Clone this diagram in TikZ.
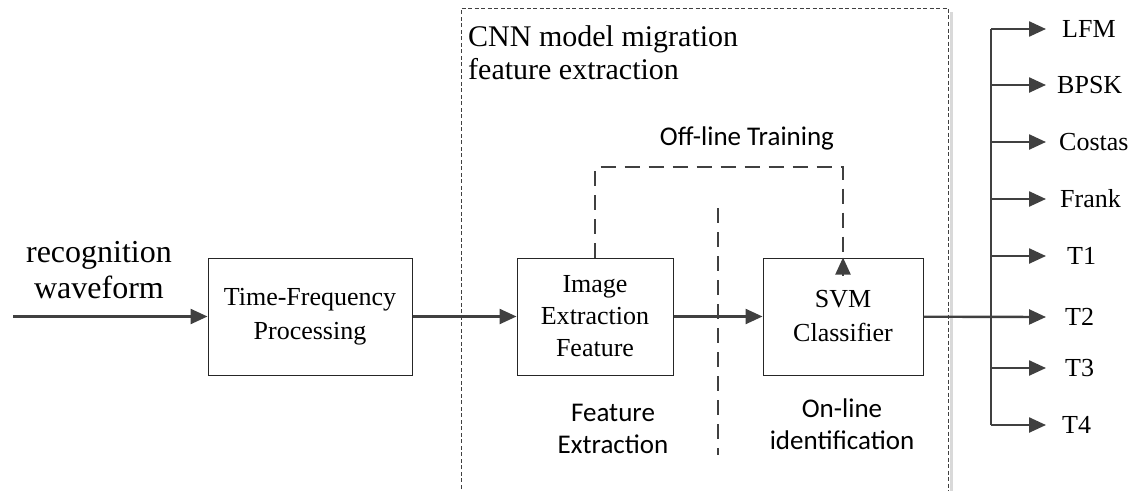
\documentclass[tikz,border=0pt]{standalone}
\usepackage{fontspec}
\setmainfont{Liberation Serif}
\newfontfamily\calibri{Carlito}
\usetikzlibrary{arrows.meta,positioning}
\tikzset{x=1pt, y=-1pt,
  block/.style={draw=black!85, line width=1pt, align=center, minimum height=117pt,
    font=\fontsize{26}{34}\selectfont},
  flow/.style={draw=black!75, line width=2.4pt, -{Triangle[length=17pt,width=15pt]}},
  bus/.style={draw=black!75, line width=2.4pt},
  dline/.style={draw=black!75, line width=2.2pt, dash pattern=on 15pt off 9pt},
  sanslab/.style={font=\calibri\fontsize{27}{32}\selectfont, align=center},
  outlab/.style={font=\fontsize{26}{30}\selectfont, anchor=west, inner ysep=0pt}
}
\begin{document}
\begin{tikzpicture}
\useasboundingbox (0,0) rectangle (1131,490);
% region of the CNN part
\draw[black!15, line width=3pt] (951,12) -- (951,495);
\draw[black!75, line width=0.8pt, dash pattern=on 4pt off 2.5pt]
  (461,495) -- (461,8) -- (948,8) -- (948,495);
\node[anchor=west, align=left, font=\fontsize{30}{33}\selectfont, inner sep=0pt]
  (cnn) at (468,53) {CNN model migration\\feature extraction};

% blocks
\node[block, minimum width=204pt] (tf) at (310,316.5) {Time-Frequency\\Processing};
\node[block, minimum width=156pt] (ief) at (595,316.5) {Image\\[-2pt]Extraction\\[-2pt]Feature};
\node[block, minimum width=160pt] (svm) at (843,316.5) {SVM\\Classifier};

\node[font=\fontsize{32}{36}\selectfont, align=center] (wave) at (99,270) {recognition\\waveform};
\coordinate (in) at (13,316.5);

\draw[flow] (in) -- (tf);
\draw[flow] (tf) -- (ief);
\draw[flow] (ief) -- (svm);

% off-line / on-line split
\coordinate (train) at (719,167);
\coordinate (divtop) at (718,208);
\coordinate (divbot) at (718,455);
\draw[dline] (ief.north) |- (train) -| ([yshift=-22pt]svm.north);
\draw[flow, line width=2.2pt] ([yshift=-18pt]svm.north) -- (svm.north);
\draw[dline] (divtop) -- (divbot);
\node[sanslab] (offl) at (747,138) {Off-line Training};
\node[sanslab] (fext) at (613,429) {Feature\\Extraction};
\node[sanslab] (onl) at (842,424) {On-line\\identification};

% outputs
\foreach \y/\lab/\dx in {29/LFM/16, 85/BPSK/11, 142/Costas/13, 199/Frank/14,
                         256/T1/21, 317/T2/19, 368/T3/19, 425/T4/16} {
  \coordinate (b\lab) at (991,\y);
  \node[outlab, inner xsep=\dx pt] (o\lab) at (1046,\y) {\lab};
}
\draw[bus, line join=miter] (bT4) -- (bLFM);
\foreach \lab in {LFM,BPSK,Costas,Frank,T1,T3,T4}
  \draw[flow] (b\lab) -- (o\lab.west);
\draw[flow] (svm) -- (oT2.west);
\end{tikzpicture}
\end{document}
